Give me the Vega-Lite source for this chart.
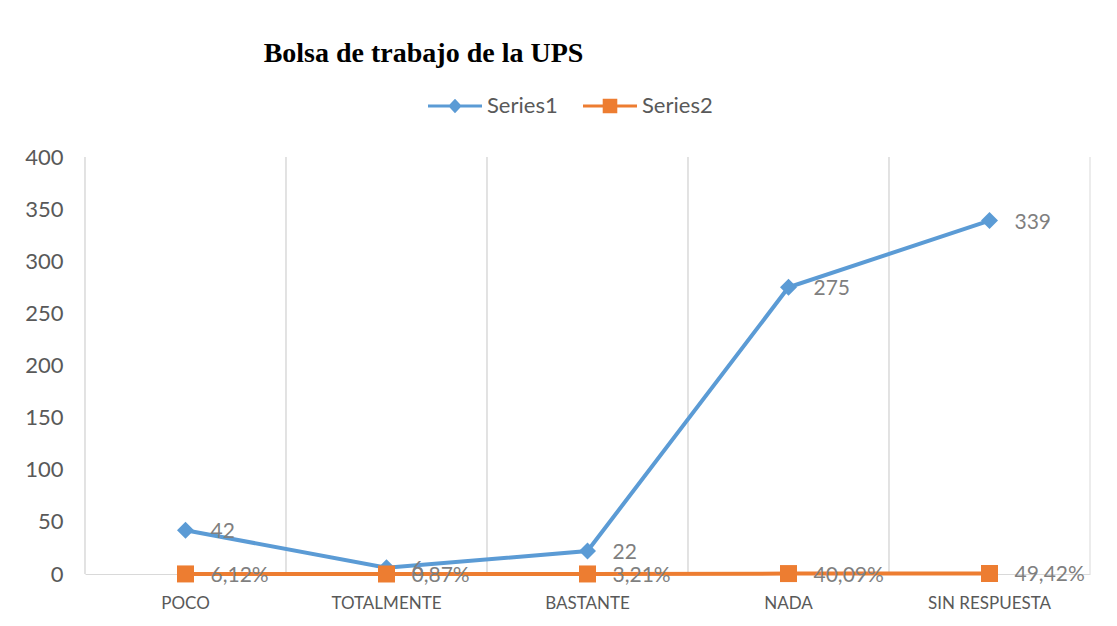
{
  "$schema": "https://vega.github.io/schema/vega-lite/v6.json",
  "width": 1005,
  "height": 417,
  "autosize": {"type": "none"},
  "padding": {"left": 85, "top": 157, "right": 27, "bottom": 52},
  "background": "white",
  "title": {
    "text": "Bolsa de trabajo de la UPS",
    "font": "Liberation Serif",
    "fontSize": 28,
    "fontWeight": "bold",
    "color": "#000000",
    "anchor": "middle",
    "frame": "group",
    "dx": -164,
    "baseline": "alphabetic",
    "offset": -11
  },
  "data": {
    "values": [
      {"categoria": "POCO", "serie": "Series1", "valor": 42, "etiqueta": "42"},
      {"categoria": "TOTALMENTE", "serie": "Series1", "valor": 6, "etiqueta": "6"},
      {"categoria": "BASTANTE", "serie": "Series1", "valor": 22, "etiqueta": "22"},
      {"categoria": "NADA", "serie": "Series1", "valor": 275, "etiqueta": "275"},
      {"categoria": "SIN RESPUESTA", "serie": "Series1", "valor": 339, "etiqueta": "339"},
      {"categoria": "POCO", "serie": "Series2", "valor": 0.0612, "etiqueta": "6,12%"},
      {"categoria": "TOTALMENTE", "serie": "Series2", "valor": 0.0087, "etiqueta": "0,87%"},
      {"categoria": "BASTANTE", "serie": "Series2", "valor": 0.0321, "etiqueta": "3,21%"},
      {"categoria": "NADA", "serie": "Series2", "valor": 0.4009, "etiqueta": "40,09%"},
      {"categoria": "SIN RESPUESTA", "serie": "Series2", "valor": 0.4942, "etiqueta": "49,42%"}
    ]
  },
  "layer": [
    {
      "mark": {"type": "rule", "color": "#D9D9D9", "strokeWidth": 1},
      "encoding": {
        "x": {
          "field": "categoria",
          "type": "nominal",
          "sort": null,
          "bandPosition": 0,
          "scale": {"type": "band", "paddingInner": 0, "paddingOuter": 0},
          "axis": {
            "title": null,
            "labelAngle": 0,
            "labelFont": "Lato",
            "labelFontSize": 17,
            "labelColor": "#595959",
            "labelPadding": 21,
            "ticks": false,
            "grid": false,
            "domain": true,
            "domainColor": "#D9D9D9",
            "domainWidth": 1
          }
        }
      }
    },
    {
      "transform": [{"filter": "datum.categoria === 'SIN RESPUESTA' && datum.serie === 'Series1'"}],
      "mark": {"type": "rule", "color": "#D9D9D9", "strokeWidth": 1},
      "encoding": {
        "x": {"field": "categoria", "type": "nominal", "sort": null, "bandPosition": 1}
      }
    },
    {
      "mark": {"type": "line", "strokeWidth": 4},
      "encoding": {
        "x": {"field": "categoria", "type": "nominal", "sort": null, "bandPosition": 0.5},
        "y": {
          "field": "valor",
          "type": "quantitative",
          "scale": {"domain": [0, 400], "nice": false},
          "axis": {
            "title": null,
            "values": [0, 50, 100, 150, 200, 250, 300, 350, 400],
            "labelFont": "Lato",
            "labelFontSize": 22,
            "labelColor": "#595959",
            "labelPadding": 22,
            "domain": false,
            "ticks": false,
            "grid": false
          }
        },
        "color": {
          "field": "serie",
          "type": "nominal",
          "scale": {"domain": ["Series1", "Series2"], "range": ["#5B9BD5", "#ED7D31"]},
          "legend": {
            "orient": "none",
            "legendX": 343,
            "legendY": -78,
            "direction": "horizontal",
            "title": null,
            "labelFont": "Lato",
            "labelFontSize": 22,
            "labelColor": "#595959",
            "labelOffset": 5,
            "columnPadding": 25,
            "padding": 0,
            "symbolSize": 2916,
            "symbolType": "M-1,-0.06L-0.2,-0.06L0,-0.27L0.2,-0.06L1,-0.06L1,0.06L0.2,0.06L0,0.27L-0.2,0.06L-1,0.06Z",
            "encode": {
              "symbols": {
                "update": {
                  "shape": {"signal": "datum.value === 'Series1' ? 'M-1,-0.06L-0.2,-0.06L0,-0.27L0.2,-0.06L1,-0.06L1,0.06L0.2,0.06L0,0.27L-0.2,0.06L-1,0.06Z' : 'M-1,-0.06L-0.27,-0.06L-0.27,-0.27L0.27,-0.27L0.27,-0.06L1,-0.06L1,0.06L0.27,0.06L0.27,0.27L-0.27,0.27L-0.27,0.06L-1,0.06Z'"},
                  "fill": {"signal": "datum.value === 'Series1' ? '#5B9BD5' : '#ED7D31'"},
                  "stroke": {"value": "transparent"},
                  "strokeWidth": {"value": 0},
                  "size": {"value": 2916},
                  "opacity": {"value": 1}
                }
              }
            }
          }
        }
      }
    },
    {
      "transform": [{"filter": "datum.serie === 'Series1'"}],
      "mark": {"type": "point", "filled": true, "opacity": 1, "size": 289, "shape": "diamond"},
      "encoding": {
        "x": {"field": "categoria", "type": "nominal", "sort": null, "bandPosition": 0.5},
        "y": {"field": "valor", "type": "quantitative"},
        "color": {"field": "serie", "type": "nominal"}
      }
    },
    {
      "transform": [{"filter": "datum.serie === 'Series2'"}],
      "mark": {"type": "point", "filled": true, "opacity": 1, "size": 289, "shape": "square"},
      "encoding": {
        "x": {"field": "categoria", "type": "nominal", "sort": null, "bandPosition": 0.5},
        "y": {"field": "valor", "type": "quantitative"},
        "color": {"field": "serie", "type": "nominal"}
      }
    },
    {
      "mark": {"type": "text", "align": "left", "baseline": "middle", "dx": 25, "dy": 2, "font": "Lato", "fontSize": 21, "color": "#7F7F7F"},
      "encoding": {
        "x": {"field": "categoria", "type": "nominal", "sort": null, "bandPosition": 0.5},
        "y": {"field": "valor", "type": "quantitative"},
        "text": {"field": "etiqueta"}
      }
    }
  ],
  "config": {"view": {"stroke": null}}
}
